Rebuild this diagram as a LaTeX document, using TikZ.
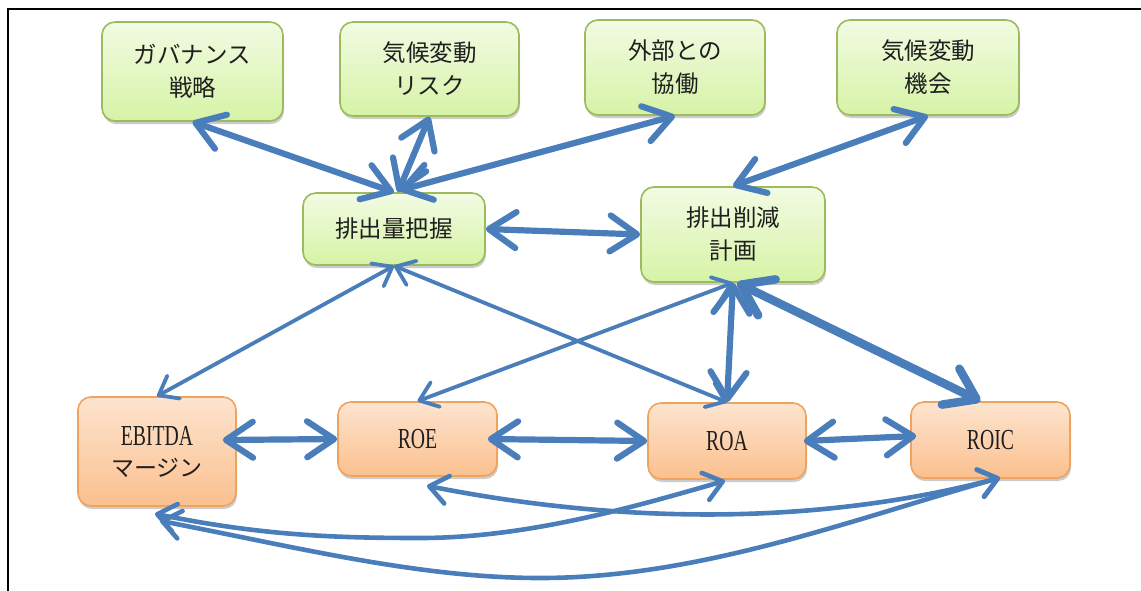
\documentclass[tikz,border=0pt]{standalone}
\usepackage{fontspec}
\newfontfamily\jafont{Noto Sans CJK JP}
\newfontfamily\lafont[FakeStretch=0.68]{Liberation Serif}
\usetikzlibrary{arrows.meta,shadows,calc}

\definecolor{arrowblue}{HTML}{4A7EBB}
\definecolor{greentop}{HTML}{F2FBE3}
\definecolor{greenbot}{HTML}{D6F3A6}
\definecolor{greenedge}{HTML}{9DBA5E}
\definecolor{orangetop}{HTML}{FDE4CF}
\definecolor{orangebot}{HTML}{FBC08E}
\definecolor{orangeedge}{HTML}{EEA35F}

\tikzset{
  box/.style={rounded corners=13pt, line width=1.6pt, align=center,
    inner sep=0pt, text=black!88,
    drop shadow={shadow xshift=1pt, shadow yshift=-3pt, opacity=0.2, fill=black}},
  greenbox/.style={box, draw=greenedge, top color=greentop, bottom color=greenbot,
    font=\jafont\fontsize{23.5}{33}\selectfont},
  orangebox/.style={box, draw=orangeedge, top color=orangetop, bottom color=orangebot,
    font=\lafont\fontsize{29}{31}\selectfont},
  boldlink/.style={draw=arrowblue, line width=6.2pt,
    {Straight Barb[length=27pt,width=36pt,round]}-{Straight Barb[length=27pt,width=36pt,round]}},
  heavylink/.style={draw=arrowblue, line width=8.5pt,
    {Straight Barb[length=29pt,width=40pt,round]}-{Straight Barb[length=29pt,width=40pt,round]}},
  thinlink/.style={draw=arrowblue, line width=3.8pt,
    {Straight Barb[length=17pt,width=26pt,round]}-{Straight Barb[length=17pt,width=26pt,round]}},
  curvelink/.style={draw=arrowblue, line width=4.6pt,
    {Straight Barb[length=18pt,width=28pt,round]}-{Straight Barb[length=18pt,width=28pt,round]}},
}

\begin{document}
\begin{tikzpicture}[x=1pt, y=-1pt]
\useasboundingbox (0,0) rectangle (1141,590);

% frame edges
\draw[line width=2.4pt, line cap=rect] (1141,9) -- (8,9) -- (8,590);

% upper row
\node[greenbox, minimum width=181pt, minimum height=99pt] (gov)  at (192.5,71.5) {ガバナンス\\戦略};
\node[greenbox, minimum width=179pt, minimum height=94pt] (risk) at (429.5,69)   {気候変動\\リスク};
\node[greenbox, minimum width=180pt, minimum height=95pt] (ext)  at (675,67.5)   {外部との\\協働};
\node[greenbox, minimum width=182pt, minimum height=95pt] (opp)  at (928,67.5)   {気候変動\\機会};

% middle row
\node[greenbox, minimum width=182pt, minimum height=72pt] (meas) at (394,229)    {排出量把握};
\node[greenbox, minimum width=184pt, minimum height=95pt] (plan) at (733,234.5)  {排出削減\\計画};

% lower row
\node[orangebox, minimum width=158pt, minimum height=109pt] (ebitda) at (157,451.5)
  {EBITDA\\{\jafont\fontsize{23}{31}\selectfont マージン}};
\node[orangebox, minimum width=159pt, minimum height=74pt] (roe)  at (417.5,439) {ROE};
\node[orangebox, minimum width=158pt, minimum height=76pt] (roa)  at (727,441)   {ROA};
\node[orangebox, minimum width=159pt, minimum height=76pt] (roic) at (990.5,440) {ROIC};

% links among the upper boxes
\draw[boldlink] (gov.south) -- (meas.north);
\draw[boldlink] (risk.south) -- ($(meas.north)+(4,0)$);
\draw[boldlink] (ext.south) -- ($(meas.north)+(6,-2)$);
\draw[boldlink] (opp.south) -- (plan.north);
\draw[boldlink] (meas.east) -- (plan.west);

% links from the middle row down
\draw[thinlink] (meas.south) -- (ebitda.north);
\draw[thinlink] (meas.south) -- (roa.north);
\draw[thinlink] (plan.south) -- (roe.north);
\draw[boldlink] (plan.south) -- (roa.north);
\draw[heavylink] ($(plan.south)+(4,0)$) -- ($(roic.north)+(-10,0)$);

% links along the lower row
\draw[boldlink] ($(ebitda.east |- roe.west)+(-14,1)$) -- (roe.west);
\draw[boldlink] ($(roe.east)+(-10,0)$) -- (roa.west);
\draw[boldlink] ($(roa.east)+(-3,0)$) -- ($(roic.west)+(6,-4)$);

% arcs below the lower row
\coordinate (roeA)  at ($(roe.south)+(9.5,9)$);
\coordinate (roicA) at ($(roic.south)+(9.5,-1)$);
\coordinate (ebB)   at ($(ebitda.south)+(-2,7)$);
\coordinate (ebC)   at ($(ebitda.south)+(3,14)$);
\coordinate (roaB)  at ($(roa.south)+(-2,1)$);

\draw[curvelink] (roeA) .. controls (600,520) and (800,530) .. (roicA);
\draw[curvelink] (ebB) .. controls (260,535) and (330,538) .. (420,538)
                       .. controls (530,538) and (640,505) .. (roaB);
\draw[curvelink] (ebC) .. controls (300,548) and (420,578) .. (540,578)
                       .. controls (700,578) and (850,520) .. (roicA);
\end{tikzpicture}
\end{document}
